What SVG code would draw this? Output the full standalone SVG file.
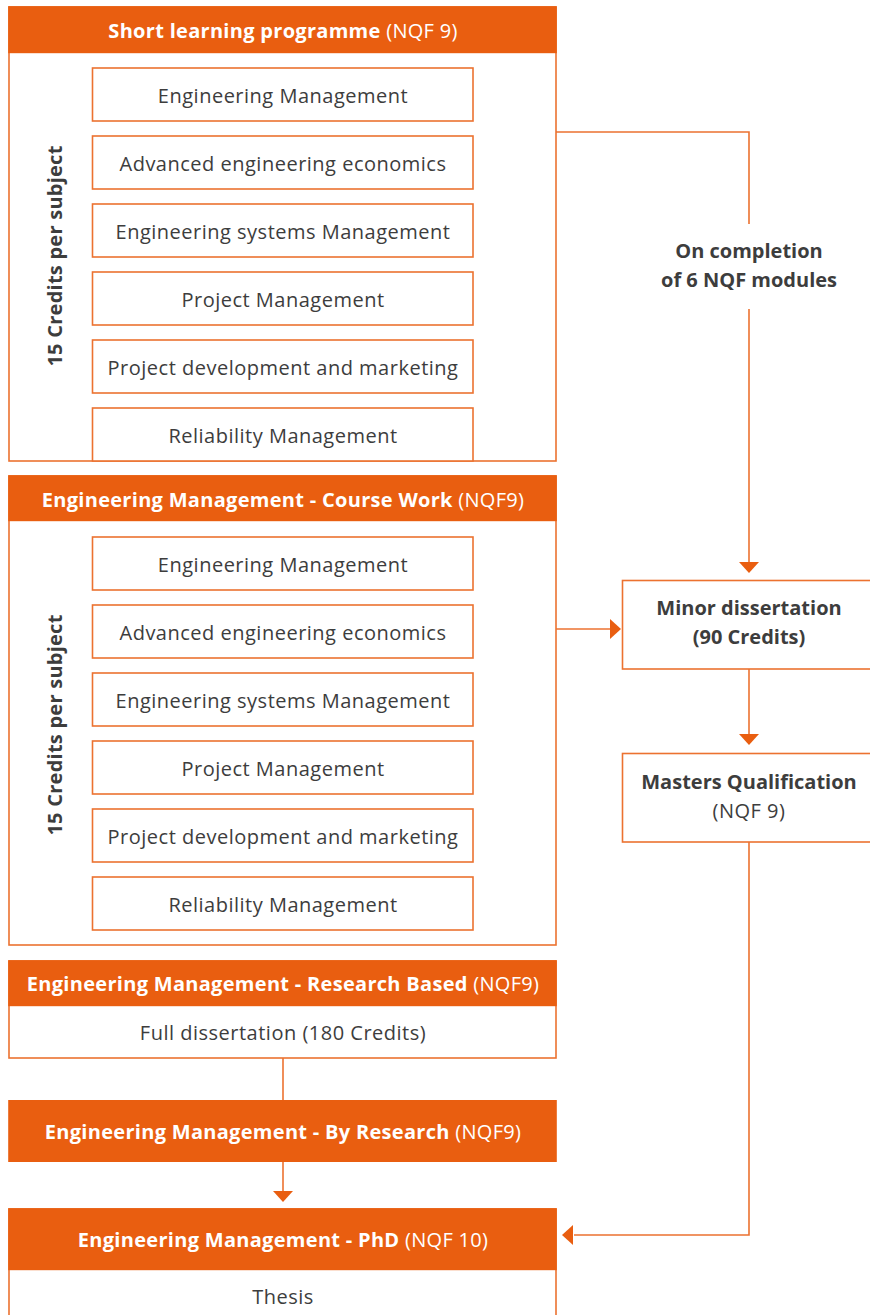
<svg xmlns="http://www.w3.org/2000/svg" width="870" height="1315" viewBox="0 0 870 1315">
<style>
.hdr{fill:#e95e10}
.box{fill:#fff;stroke:#ec7230;stroke-width:1.6}
.t{font-family:"Open Sans","Noto Sans",sans-serif;font-size:20px;letter-spacing:0.5px;fill:#3d3d3d;text-anchor:middle}
.h{font-family:"Open Sans","Noto Sans",sans-serif;font-size:20px;letter-spacing:0.3px;fill:#fff;text-anchor:middle}
.b{font-weight:bold;letter-spacing:0}
.side{font-family:"Open Sans","Noto Sans",sans-serif;font-size:20px;letter-spacing:0.25px;font-weight:bold;fill:#3d3d3d;text-anchor:middle}
.ln{fill:none;stroke:#ec7230;stroke-width:1.6}
.ah{fill:#e95e10}
</style>
<rect width="870" height="1315" fill="#fff"/>

<g id="short-learning">
<rect class="box" x="9" y="7" width="547" height="454"/>
<rect class="hdr" x="8.2" y="6.2" width="548.6" height="47"/>
<text class="h" x="283" y="38"><tspan font-weight="bold">Short learning programme</tspan> (NQF 9)</text>
<text class="side" transform="translate(62,256) rotate(-90)">15 Credits per subject</text>
<rect class="box" x="92.5" y="68" width="380.5" height="53"/>
<text class="t" x="283" y="103">Engineering Management</text>
<rect class="box" x="92.5" y="136" width="380.5" height="53"/>
<text class="t" x="283" y="171">Advanced engineering economics</text>
<rect class="box" x="92.5" y="204" width="380.5" height="53"/>
<text class="t" x="283" y="239">Engineering systems Management</text>
<rect class="box" x="92.5" y="272" width="380.5" height="53"/>
<text class="t" x="283" y="307">Project Management</text>
<rect class="box" x="92.5" y="340" width="380.5" height="53"/>
<text class="t" x="283" y="375">Project development and marketing</text>
<rect class="box" x="92.5" y="408" width="380.5" height="53"/>
<text class="t" x="283" y="443">Reliability Management</text>
</g>

<g id="course-work">
<rect class="box" x="9" y="476" width="547" height="469"/>
<rect class="hdr" x="8.2" y="475.2" width="548.6" height="46"/>
<text class="h" x="283" y="507"><tspan font-weight="bold">Engineering Management - Course Work</tspan> (NQF9)</text>
<text class="side" transform="translate(62,725) rotate(-90)">15 Credits per subject</text>
<rect class="box" x="92.5" y="537" width="380.5" height="53"/>
<text class="t" x="283" y="572">Engineering Management</text>
<rect class="box" x="92.5" y="605" width="380.5" height="53"/>
<text class="t" x="283" y="640">Advanced engineering economics</text>
<rect class="box" x="92.5" y="673" width="380.5" height="53"/>
<text class="t" x="283" y="708">Engineering systems Management</text>
<rect class="box" x="92.5" y="741" width="380.5" height="53"/>
<text class="t" x="283" y="776">Project Management</text>
<rect class="box" x="92.5" y="809" width="380.5" height="53"/>
<text class="t" x="283" y="844">Project development and marketing</text>
<rect class="box" x="92.5" y="877" width="380.5" height="53"/>
<text class="t" x="283" y="912">Reliability Management</text>
</g>

<g id="research-based">
<rect class="box" x="9" y="961" width="547" height="97"/>
<rect class="hdr" x="8.2" y="960.2" width="548.6" height="46"/>
<text class="h" x="283" y="991"><tspan font-weight="bold">Engineering Management - Research Based</tspan> (NQF9)</text>
<text class="t" x="283" y="1040">Full dissertation (180 Credits)</text>
</g>

<g id="by-research">
<rect class="hdr" x="8.2" y="1100" width="548.6" height="62"/>
<text class="h" x="283" y="1139"><tspan font-weight="bold">Engineering Management - By Research</tspan> (NQF9)</text>
</g>

<g id="phd">
<rect class="box" x="9" y="1209" width="547" height="120"/>
<rect class="hdr" x="8.2" y="1208.2" width="548.6" height="62"/>
<text class="h" x="283" y="1247"><tspan font-weight="bold">Engineering Management - PhD</tspan> (NQF 10)</text>
<text class="t" x="283" y="1304">Thesis</text>
</g>

<g id="minor-dissertation">
<rect class="box" x="622.5" y="580.5" width="260" height="88.5"/>
<text class="t b" x="749" y="615">Minor dissertation</text>
<text class="t b" x="749" y="644">(90 Credits)</text>
</g>

<g id="masters">
<rect class="box" x="622.5" y="753.5" width="260" height="88.5"/>
<text class="t b" x="749" y="789">Masters Qualification</text>
<text class="t" x="749" y="818">(NQF 9)</text>
</g>

<g id="connectors">
<polyline class="ln" points="556,132 749,132 749,224"/>
<text class="t b" x="749" y="258">On completion</text>
<text class="t b" x="749" y="287">of 6 NQF modules</text>
<line class="ln" x1="749" y1="309" x2="749" y2="563"/>
<polygon class="ah" points="739,562 759,562 749,573"/>
<line class="ln" x1="556" y1="629" x2="611" y2="629"/>
<polygon class="ah" points="610,619 610,639 621,629"/>
<line class="ln" x1="749" y1="669" x2="749" y2="735"/>
<polygon class="ah" points="739,734 759,734 749,745"/>
<polyline class="ln" points="749,842 749,1235 574,1235"/>
<polygon class="ah" points="573,1225 573,1245 562,1235"/>
<line class="ln" x1="283" y1="1058" x2="283" y2="1100"/>
<line class="ln" x1="283" y1="1162" x2="283" y2="1192"/>
<polygon class="ah" points="273,1191 293,1191 283,1202"/>
</g>
</svg>
